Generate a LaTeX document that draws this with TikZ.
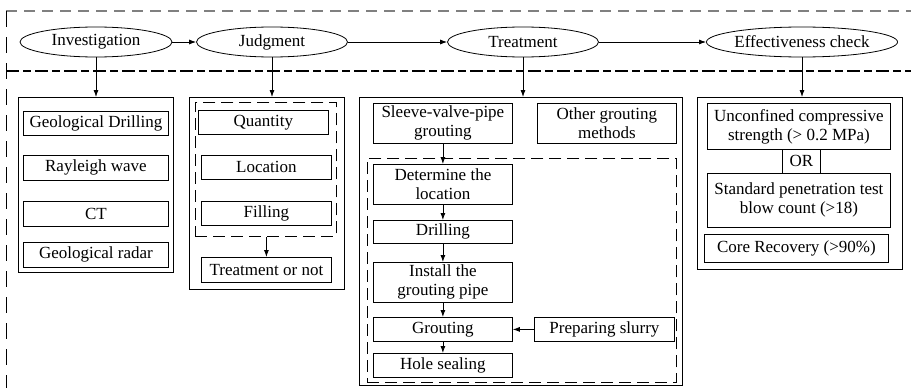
\documentclass[tikz,border=0pt]{standalone}
\usepackage{fontspec}
\setmainfont{Liberation Serif}
\usetikzlibrary{arrows.meta,positioning,shapes.geometric}
\tikzset{
  >={Latex[length=7pt,width=5pt]},
  font=\rmfamily\fontsize{17}{19}\selectfont,
  stage/.style={draw,ellipse,line width=0.8pt,minimum height=30pt,inner sep=0pt},
  sized/.style 2 args={minimum width=#1,minimum height=#2},
  frame/.style={draw,line width=0.8pt,anchor=north west,inner sep=0pt},
  item/.style={draw,line width=0.8pt,anchor=north west,inner sep=0pt,align=center},
  group/.style={draw,line width=0.8pt,anchor=north west,inner sep=0pt,
                dash pattern=on 12pt off 6pt},
  flow/.style={->,line width=0.8pt},
}
\begin{document}
\begin{tikzpicture}[x=1pt,y=-1pt]
  \useasboundingbox (0,0) rectangle (911,388);
  % outer frame and divider
  \draw[gray,line width=1.2pt,dash pattern=on 11pt off 7pt] (6,11) -- (911,11);
  \draw[line width=0.9pt,dash pattern=on 16pt off 10pt] (6,11) -- (6,388);
  \draw[line width=1.3pt,dash pattern=on 13pt off 4pt on 8pt off 4pt] (6,71) -- (911,71);

  % stages
  \node[stage,minimum width=152pt] (inv) at (96,42) {Investigation};
  \node[stage,minimum width=151pt] (jud) at (272,42) {Judgment};
  \node[stage,minimum width=151pt] (trt) at (523,42) {Treatment};
  \node[stage,minimum width=170pt] (eff) at (802,42) {Effectiveness check};

  % columns
  \node[frame,sized={155pt}{175pt}] (col1) at (18,97) {};
  \node[frame,sized={155pt}{192pt}] (col2) at (189,97) {};
  \node[frame,sized={323pt}{288pt}] (col3) at (359,97) {};
  \node[frame,sized={205pt}{172pt}] (col4) at (697,97) {};

  % investigation
  \node[item,sized={145pt}{24pt}] (drill) at (23,111) {Geological Drilling};
  \node[item,sized={145pt}{25pt}] (wave) at (23,155) {Rayleigh wave};
  \node[item,sized={145pt}{25pt}] (ct) at (23,201) {CT};
  \node[item,sized={145pt}{25pt}] (radar) at (23,242) {Geological radar};

  % judgment
  \node[group,sized={141pt}{134pt}] (grp2) at (195,102) {};
  \node[item,sized={130pt}{24pt}] (qty) at (198,110) {Quantity};
  \node[item,sized={130pt}{24pt}] (loc) at (201,155) {Location};
  \node[item,sized={130pt}{24pt}] (fill) at (201,201) {Filling};
  \node[item,sized={130pt}{25pt}] (tornot) at (201,257) {Treatment or not};

  % treatment
  \node[item,sized={139pt}{40pt}] (sleeve) at (373,103) {Sleeve-valve-pipe\\grouting};
  \node[item,sized={139pt}{40pt}] (other) at (537,103) {Other grouting\\methods};
  \node[group,sized={309pt}{224pt}] (grp3) at (367,158) {};
  \node[item,sized={139pt}{40pt}] (determ) at (373,164) {Determine the\\location};
  \node[item,sized={139pt}{23pt}] (drilling) at (373,220) {Drilling};
  \node[item,sized={139pt}{40pt}] (install) at (373,262) {Install the\\grouting pipe};
  \node[item,sized={139pt}{24pt}] (grout) at (373,317) {Grouting};
  \node[item,sized={139pt}{24pt}] (seal) at (373,353) {Hole sealing};
  \node[item,sized={140pt}{24pt}] (slurry) at (534,317) {Preparing slurry};

  % effectiveness check
  \node[item,sized={183pt}{46pt}] (ucs) at (707,103) {Unconfined compressive\\strength (> 0.2 MPa)};
  \node[item,sized={38pt}{24pt}] (or) at (782,149) {OR};
  \node[item,sized={183pt}{54pt}] (spt) at (707,173) {Standard penetration test\\blow count (>18)};
  \node[item,sized={184pt}{28pt}] (core) at (704,234) {Core Recovery (>90\%)};

  % connectors
  \draw[flow] (inv) -- (jud);
  \draw[flow] (jud) -- (trt);
  \draw[flow] (trt) -- (eff);
  \draw[flow] (inv.south) -- (inv.south |- col1.north);
  \draw[flow] (jud.south) -- (jud.south |- col2.north);
  \draw[flow] (trt.south) -- (trt.south |- col3.north);
  \draw[flow] (eff.south) -- (eff.south |- col4.north);
  \draw[flow] (tornot.north |- grp2.south) -- (tornot.north);
  \draw[flow] (sleeve) -- (determ);
  \draw[flow] (determ) -- (drilling);
  \draw[flow] (drilling) -- (install);
  \draw[flow] (install) -- (grout);
  \draw[flow] (grout) -- (seal);
  \draw[flow] (slurry) -- (grout);
\end{tikzpicture}
\end{document}
